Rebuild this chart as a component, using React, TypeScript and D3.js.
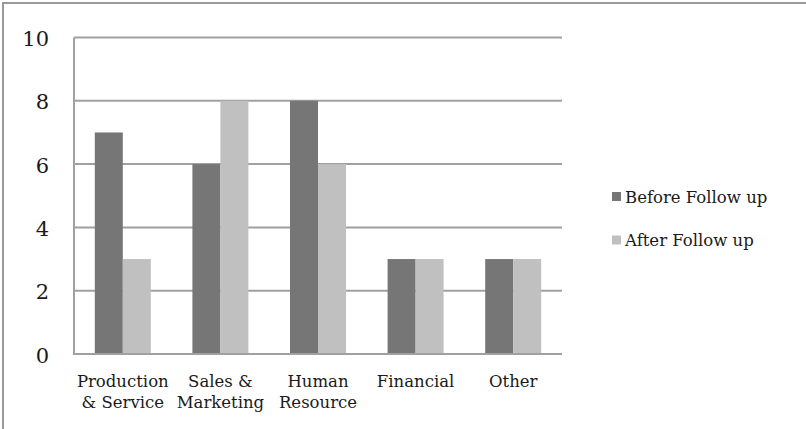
import React from "react";
import * as d3 from "d3";

const categories = [
  ["Production", "& Service"],
  ["Sales &", "Marketing"],
  ["Human", "Resource"],
  ["Financial"],
  ["Other"],
];
const beforeValues = [7, 6, 8, 3, 3];
const afterValues = [3, 8, 6, 3, 3];
const seriesNames = ["Before Follow up", "After Follow up"];
const yTicks = [0, 2, 4, 6, 8, 10];

const W = 806;
const H = 429;
const plot = { left: 74, right: 562, top: 37.5, bottom: 354 };
const colors = ["#767676", "#c0c0c0"];
const FONT = "'DejaVu Serif', 'Liberation Serif', serif";

export default function App() {
  const x = d3
    .scaleBand<number>()
    .domain(categories.map((_, i) => i))
    .range([plot.left, plot.right]);
  const y = d3.scaleLinear().domain([0, 10]).range([plot.bottom, plot.top]);
  const barW = 28;
  const series = [beforeValues, afterValues];

  return (
    <svg
      width={W}
      height={H}
      style={{ position: "absolute", left: 0, top: 0, display: "block", background: "#fff" }}
      fontFamily={FONT}
    >
      <rect x={3} y={3} width={W} height={H} fill="#fff" stroke="#9a9a9a" strokeWidth={2} />

      {/* horizontal gridlines */}
      {yTicks.map((t) => (
        <line
          key={t}
          x1={plot.left}
          x2={plot.right}
          y1={y(t)}
          y2={y(t)}
          stroke="#a0a0a0"
          strokeWidth={2}
        />
      ))}
      {/* left axis line */}
      <line x1={plot.left} x2={plot.left} y1={plot.top} y2={plot.bottom + 1} stroke="#a0a0a0" strokeWidth={2} />

      {/* y tick labels */}
      {yTicks.map((t) => (
        <text
          key={t}
          x={49}
          y={y(t) + 3}
          textAnchor="end"
          dominantBaseline="middle"
          fontSize={21}
          fill="#1a1a1a"
        >
          {t}
        </text>
      ))}

      {/* bars */}
      {series.map((vals, s) =>
        vals.map((v, i) => {
          const cx = (x(i) as number) + x.bandwidth() / 2;
          return (
            <rect
              key={`${s}-${i}`}
              x={cx - barW + s * barW}
              y={y(v)}
              width={barW}
              height={y(0) - y(v)}
              fill={colors[s]}
            />
          );
        })
      )}

      {/* category axis line on top of bars */}
      <line x1={plot.left} x2={plot.right} y1={y(0)} y2={y(0)} stroke="#a0a0a0" strokeWidth={2} />

      {/* category labels */}
      {categories.map((lines, i) => {
        const cx = (x(i) as number) + x.bandwidth() / 2;
        return (
          <text key={i} x={cx} y={387} textAnchor="middle" fontSize={16.5} fill="#1a1a1a">
            {lines.map((ln, k) => (
              <tspan key={k} x={cx} dy={k === 0 ? 0 : 21}>
                {ln}
              </tspan>
            ))}
          </text>
        );
      })}

      {/* legend */}
      {seriesNames.map((name, s) => (
        <g key={name} transform={`translate(612, ${192 + s * 43.5})`}>
          <rect x={0} y={0} width={9} height={9} fill={colors[s]} />
          <text x={13} y={10.5} fontSize={16.5} fill="#1a1a1a">
            {name}
          </text>
        </g>
      ))}
    </svg>
  );
}
